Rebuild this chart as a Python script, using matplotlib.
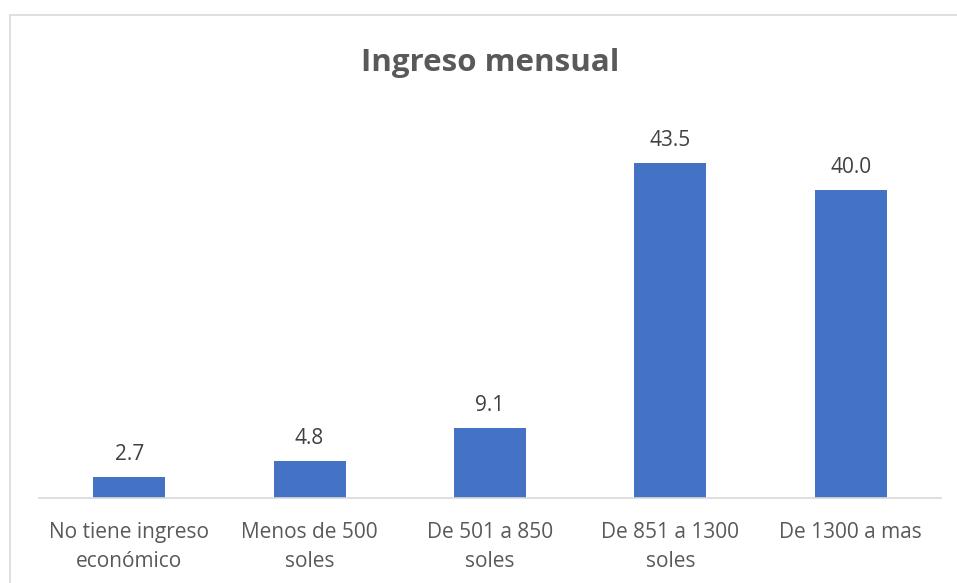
import matplotlib.pyplot as plt
from matplotlib.patches import Rectangle

categories = ["No tiene ingreso\neconómico", "Menos de 500\nsoles", "De 501 a 850\nsoles",
              "De 851 a 1300\nsoles", "De 1300 a mas"]
values = [2.7, 4.8, 9.1, 43.5, 40.0]

plt.rcParams['font.family'] = ['Open Sans', 'DejaVu Sans']

fig = plt.figure(figsize=(9.57, 5.83), dpi=100)
# chart border (runs off the right and bottom edges)
fig.patches.append(Rectangle((10 / 957, -10 / 583), 960 / 957, 578 / 583, transform=fig.transFigure,
                             fill=False, edgecolor='#d9d9d9', linewidth=1.2))

ax = fig.add_axes([39 / 957, 85 / 583, 902 / 957, 385 / 583])
x = range(len(categories))
bars = ax.bar(x, values, width=0.4, color='#4472C4')
for b, v in zip(bars, values):
    ax.text(b.get_x() + b.get_width() / 2, v + 1.6, f"{v:.1f}", ha='center', va='bottom',
            fontsize=15, color='#404040')

ax.set_xlim(-0.5, 4.5)
ax.set_ylim(0, 50)
ax.set_xticks(list(x))
ax.set_xticklabels(categories, fontsize=15, color='#595959', linespacing=1.55)
ax.tick_params(axis='x', length=0, pad=17)
ax.set_yticks([])
for s in ['top', 'right', 'left']:
    ax.spines[s].set_visible(False)
ax.spines['bottom'].set_color('#d9d9d9')
ax.spines['bottom'].set_linewidth(1.2)

fig.text(490 / 957, 1 - 63 / 583, "Ingreso mensual", ha='center', va='center',
         fontsize=22.5, fontweight='bold', color='#595959')

fig.savefig('out.png', dpi=100)
